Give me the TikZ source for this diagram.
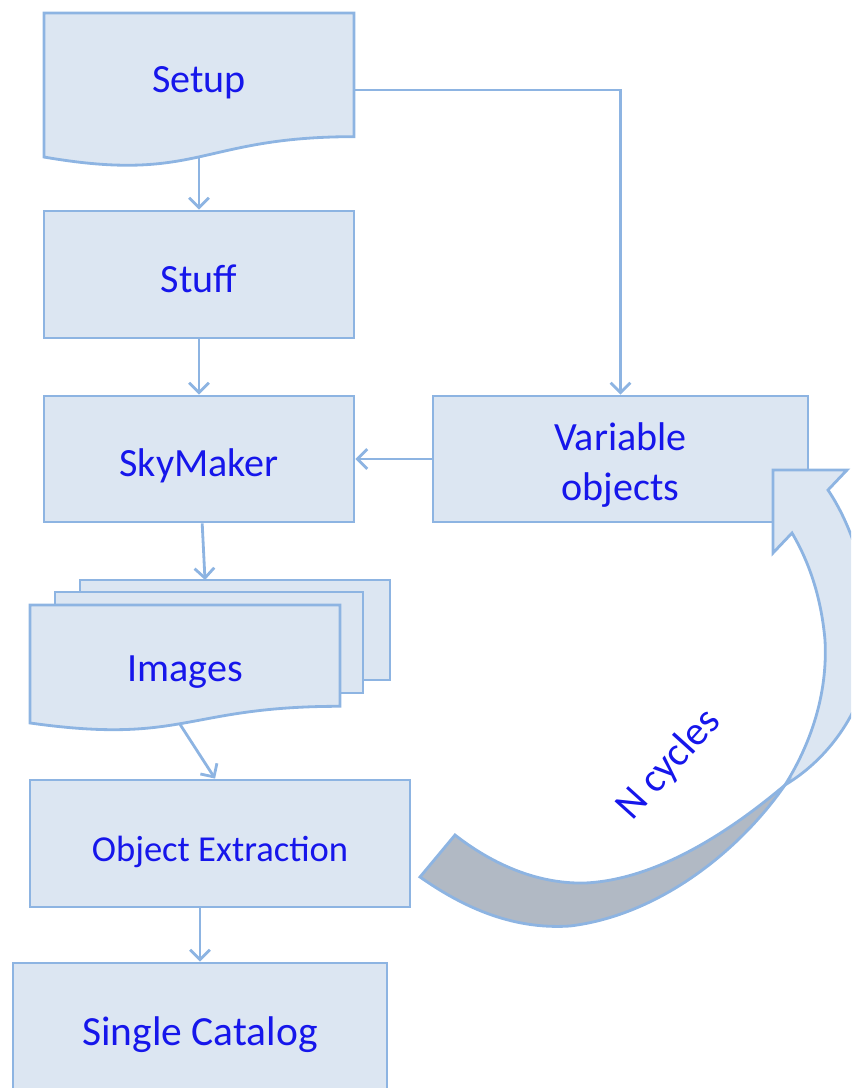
\documentclass[tikz,border=0pt]{standalone}
\usepackage{fontspec}
\setmainfont{Carlito}
\usetikzlibrary{arrows.meta,calc}
\definecolor{boxfill}{RGB}{220,230,242}
\definecolor{boxline}{RGB}{141,180,226}
\definecolor{txtblue}{RGB}{22,22,235}
\definecolor{loopgray}{RGB}{177,185,196}
\newcommand{\docbox}[4]{\filldraw[boxpaint] (#1,#2) -- ({#1+#3},#2) -- ({#1+#3},{#2+0.802*#4})
  .. controls ({#1+0.5*#3},{#2+0.802*#4}) and ({#1+0.5*#3},{#2+1.1075*#4}) .. (#1,{#2+0.934*#4}) -- cycle;}

\begin{document}
\begin{tikzpicture}[x=0.025cm, y=-0.025cm,
	boxpaint/.style={draw=boxline, fill=boxfill, line width=2pt},
	box/.style={boxpaint, rectangle, inner sep=0pt, text=txtblue,
		font=\fontsize{28.5}{35.5}\selectfont},
	oneline/.style={text height=27pt, text depth=1.5pt},
	conn/.style={draw=boxline, line width=2pt, -{Straight Barb[length=7pt,width=14pt]}}]

\useasboundingbox (0,0) rectangle (851,1088);
\clip (0,0) rectangle (851,1088);

\docbox{44}{13}{310}{154.2}
\node[box, draw=none, fill=none, minimum width=7.75cm, minimum height=3.6cm,
	text height=12pt, text depth=2pt] (setup) at (199,85) {Setup};
\node[box, oneline, minimum width=7.75cm, minimum height=3.175cm] (stuff) at (199,274.5) {Stuff};
\node[box, oneline, minimum width=7.75cm, minimum height=3.15cm] (sky) at (199,459) {SkyMaker};
\node[box, minimum width=9.375cm, minimum height=3.15cm, align=center]
	(varobj) at (620.5,459) {\rule{0pt}{28.5pt}Variable\\objects};

\filldraw[boxpaint] (80,580) rectangle (390,680);
\filldraw[boxpaint] (55,592) rectangle (363,693);
\docbox{30}{605}{310}{126.3}
\node[box, oneline, draw=none, fill=none, minimum width=7.75cm, minimum height=2.95cm] (images) at (185,664) {Images};
\coordinate (imgtop) at (205,580);

\node[box, oneline, minimum width=9.5cm, minimum height=3.175cm,
	font=\fontsize{26}{32}\selectfont] (objext) at (220,843.5) {Object Extraction};
\node[box, oneline, minimum width=9.35cm, minimum height=3.25cm,
	font=\fontsize{29.5}{36}\selectfont] (single) at (200,1028) {Single Catalog};

\draw[conn] (setup) -- (stuff);
\draw[conn] (stuff) -- (sky);
\draw[conn] (sky) -- (imgtop);
\draw[conn] ([xshift=-3.5pt]images.south) -- ([xshift=-3.5pt]objext.north);
\draw[conn] (objext.south -| single.north) -- (single.north);
\draw[conn] ($(setup.east)+(0,5)$) -| (varobj);
\draw[conn] (varobj) -- (sky);

\filldraw[draw=boxline, fill=boxfill, line width=2pt]
	(785,785) .. controls (810,745) and (828,695) .. (825,640)
	.. controls (821,595) and (808,560) .. (792,533) -- (773,553) -- (773,470)
	-- (847,470) -- (828,490) .. controls (855,530) and (872,590) .. (870,650)
	.. controls (868,700) and (835,755) .. (785,785) -- cycle;
\filldraw[draw=boxline, fill=loopgray, line width=2pt]
	(455,835) .. controls (500,870) and (545,884) .. (585,883)
	.. controls (650,880) and (720,840) .. (785,785)
	.. controls (740,850) and (660,915) .. (570,926)
	.. controls (510,930) and (460,905) .. (420,877) -- cycle;
\node[text=txtblue, rotate=48, font=\fontsize{29}{35}\selectfont] (ncycles) at (669,765) {N cycles};
\end{tikzpicture}
\end{document}
